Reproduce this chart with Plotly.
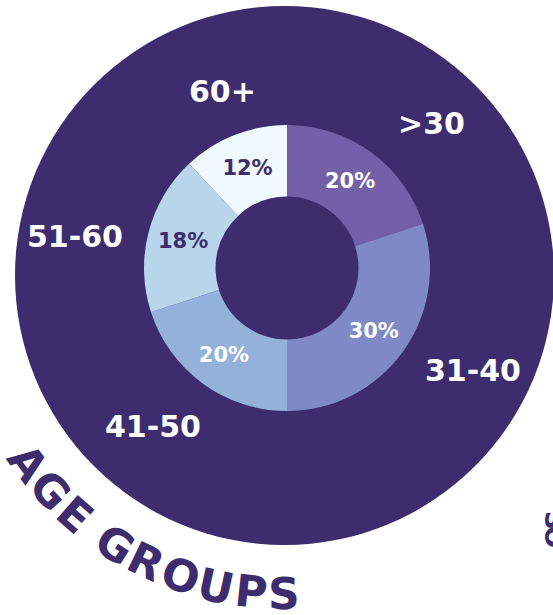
import math
import plotly.graph_objects as go

# ---- data ----
categories = [">30", "31-40", "41-50", "51-60", "60+"]
shares = [20, 30, 20, 18, 12]
slice_colors = ["#7460a8", "#7e89c5", "#93b1da", "#b8d5eb", "#eff9fe"]
pct_text_colors = ["#ffffff", "#ffffff", "#ffffff", "#3d2c6e", "#3d2c6e"]
title_text = "AGE GROUPS"
next_title_text = "SOCIAL"

# ---- layout constants (page pixels) ----
W, H = 553, 615
DARK = "#3d2c6e"
FONT = "DejaVu Sans"
big_c = (284.5, 275.5)
big_r = 269.5
donut_c = (287, 268)
donut_r = 143

# outer category label anchor points (px)
label_pos = {">30": (431, 123), "31-40": (473, 370), "41-50": (153, 426),
             "51-60": (75, 236), "60+": (222, 91)}


def paper_x(px):
    return px / W


def paper_y(py):
    return (H - py) / H


fig = go.Figure()

fig.add_trace(go.Pie(
    labels=categories,
    values=shares,
    sort=False,
    direction="clockwise",
    rotation=0,
    hole=0.5,
    marker=dict(colors=slice_colors, line=dict(width=0)),
    texttemplate="%{value}%",
    textposition="inside",
    insidetextorientation="horizontal",
    textfont=dict(family=FONT, size=21, color=pct_text_colors, weight=700),
    showlegend=False,
    hoverinfo="label+percent",
    domain=dict(
        x=[paper_x(donut_c[0] - donut_r), paper_x(donut_c[0] + donut_r)],
        y=[paper_y(donut_c[1] + donut_r), paper_y(donut_c[1] - donut_r)],
    ),
))

# big background circle
fig.add_shape(type="circle", xref="x", yref="y", layer="below",
              x0=big_c[0] - big_r, x1=big_c[0] + big_r,
              y0=big_c[1] - big_r, y1=big_c[1] + big_r,
              fillcolor=DARK, line=dict(width=0))

annotations = []
for cat in categories:
    x, y = label_pos[cat]
    annotations.append(dict(x=x, y=y, xref="x", yref="y", text=cat, showarrow=False,
                            xanchor="center", yanchor="middle",
                            font=dict(family=FONT, size=30, color="white", weight=700)))

# curved "AGE GROUPS" title
em = {"A": 0.774, "G": 0.821, "E": 0.683, " ": 0.348, "R": 0.770,
      "O": 0.850, "U": 0.812, "P": 0.733, "S": 0.720}
arc_R = 318
px_per_em = 45.3
start_deg = 143.9
cum = 0.0
for i, ch in enumerate(title_text):
    w = em[ch]
    center = 0.0 if i == 0 else cum + w / 2
    cum = center + w / 2
    if ch == " ":
        continue
    ang = math.radians(start_deg) - center * px_per_em / arc_R
    x = big_c[0] + arc_R * math.cos(ang)
    y = big_c[1] + arc_R * math.sin(ang)
    annotations.append(dict(x=paper_x(x), y=paper_y(y), xref="paper", yref="paper",
                            text=ch, showarrow=False,
                            xanchor="center", yanchor="middle",
                            textangle=math.degrees(ang) - 90,
                            font=dict(family=FONT, size=44, color=DARK, weight=700)))

# start of the neighbouring chart's curved title, cut off at the right edge
next_pos = [(554, 520), (554, 537)]
for ch, (nx, ny) in zip(next_title_text, next_pos):
    annotations.append(dict(x=paper_x(nx), y=paper_y(ny),
                            xref="paper", yref="paper", text=ch, showarrow=False,
                            xanchor="center", yanchor="middle", textangle=90,
                            font=dict(family=FONT, size=26, color=DARK, weight=700)))

fig.update_layout(
    width=W, height=H,
    margin=dict(l=0, r=0, t=0, b=0),
    paper_bgcolor="white", plot_bgcolor="white",
    xaxis=dict(range=[0, W], visible=False, fixedrange=True),
    yaxis=dict(range=[H, 0], visible=False, fixedrange=True),
    annotations=annotations,
    showlegend=False,
)

fig.write_html("out.html",
               config={"displayModeBar": False},
               post_script="document.body.style.margin='0';"
                           "document.body.style.overflow='hidden';")
